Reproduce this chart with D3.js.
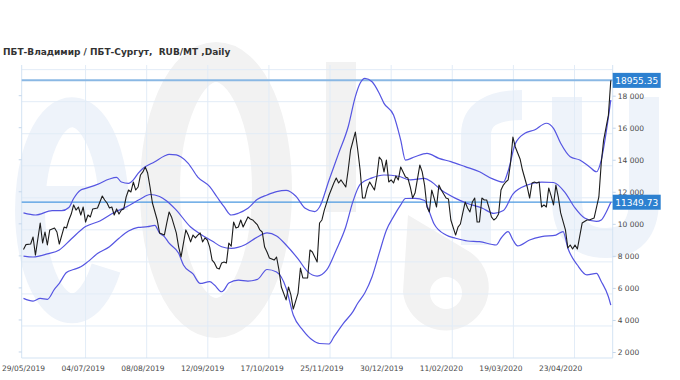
<!DOCTYPE html>
<html><head><meta charset="utf-8">
<script src="https://cdn.jsdelivr.net/npm/d3@7"></script>
<style>body{margin:0;background:#fff}svg{display:block}text{white-space:pre}</style>
</head><body><svg id="c" width="680" height="380"></svg>
<script>
const title = "ПБТ-Владимир / ПБТ-Сургут,  RUB/MT ,Daily";
const dateLabels = ["29/05/2019","04/07/2019","08/08/2019","12/09/2019","17/10/2019","25/11/2019","30/12/2019","11/02/2020","19/03/2020","23/04/2020"];
const dateLabelIdx = [0,25,50,75,100,125,150,175,200,225];
const yTicks = [2000,4000,6000,8000,10000,12000,14000,16000,18000];
const lastPrice = 18955.35;
const lastSMA = 11349.73;

// price (trading-day index, value)
const price = [[0,8400],[1,8700],[3,8740],[4,9180],[5,8050],[7,10050],[8,8800],[9,9490],[10,8680],[11,9620],[13,9740],[14,9490],[15,8740],[17,9800],[18,9740],[19,10240],[20,10610],[21,11180],[22,10860],[23,11050],[24,10550],[25,11050],[26,10110],[27,10550],[28,10430],[29,10930],[31,10990],[33,11740],[34,11490],[35,11300],[36,10990],[37,11050],[38,10550],[39,10930],[40,10610],[41,10860],[42,10930],[43,11680],[44,12110],[45,11990],[46,12610],[47,12110],[48,12300],[49,13050],[50,13240],[51,13550],[52,13170],[53,12300],[54,11300],[56,10240],[57,9430],[59,9300],[60,10050],[61,10740],[62,10430],[64,9430],[65,8550],[66,7930],[67,8800],[68,9620],[69,9300],[70,8870],[71,9300],[72,9120],[73,9300],[74,9430],[75,8870],[76,9120],[77,8990],[78,8550],[79,7740],[80,7560],[81,7240],[82,7180],[83,7560],[84,7620],[85,7560],[86,8800],[87,8600],[88,10110],[89,9740],[90,9800],[91,10240],[92,9800],[93,10110],[94,10430],[95,10300],[96,10240],[98,9930],[99,9620],[100,9490],[101,8550],[102,8240],[103,7870],[105,7740],[106,7930],[107,7120],[108,6060],[110,5250],[111,6060],[112,5560],[113,4680],[115,5680],[116,7240],[117,6620],[119,6620],[120,8370],[121,8240],[123,7620],[124,10050],[125,10240],[126,10860],[128,11800],[130,12550],[131,12860],[132,12550],[133,12740],[135,12300],[136,13360],[137,14610],[139,15730],[140,14610],[141,13360],[142,11610],[143,11610],[144,12240],[145,12610],[147,12110],[148,12920],[149,14170],[150,13980],[151,13240],[152,13980],[153,12610],[154,12740],[155,12550],[156,12990],[157,12740],[158,13550],[159,13240],[160,12920],[161,12860],[162,12300],[163,11610],[164,11920],[166,13670],[167,13240],[168,12420],[169,11050],[170,10740],[171,12110],[172,11610],[173,11050],[174,12420],[175,12110],[177,11610],[178,11550],[179,10240],[181,9300],[182,9800],[183,9990],[184,10680],[185,11360],[186,10990],[187,10740],[188,11360],[189,11610],[190,10110],[191,10120],[192,11610],[193,11490],[194,11490],[195,10990],[196,10430],[197,10240],[198,10360],[199,10610],[200,12110],[201,12420],[202,12610],[203,12740],[204,13800],[205,15420],[206,14800],[207,14420],[208,14050],[209,13360],[211,12300],[212,11610],[213,12550],[214,12610],[215,12550],[216,12610],[217,11050],[218,11180],[219,11050],[220,12240],[221,11740],[222,11180],[223,12420],[224,11680],[225,10680],[227,9620],[228,8490],[229,8680],[230,8430],[231,8680],[232,8430],[234,10050],[236,10240],[237,10240],[239,10360],[241,11680],[242,13800],[243,15230],[245,16790],[246,18955.35]];

const upperBand = [[0,10680],[5,10550],[12,10820],[16,10820],[19,11020],[21,11580],[24,12110],[26,12210],[31,12460],[36,12800],[39,12900],[41,12610],[44,12530],[46,12740],[48,13150],[50,13450],[55,13880],[59,14230],[61,14340],[64,14300],[66,14170],[69,13780],[73,12920],[78,12320],[81,11690],[84,11070],[87,10550],[90,10660],[94,10970],[98,11530],[102,11800],[106,12010],[110,12090],[114,11740],[118,10970],[122,10760],[124,11050],[128,12740],[132,14400],[136,16060],[139,17940],[141,18770],[143,19080],[146,18870],[149,18150],[151,17520],[155,16790],[158,15230],[160,13980],[164,14190],[169,14400],[174,14090],[179,13880],[185,13570],[191,13250],[196,12840],[201,12600],[203,13300],[206,15000],[210,15650],[214,15860],[219,16280],[222,15960],[225,15030],[229,14190],[233,13980],[237,13570],[240,13250],[242,13980],[244,15650],[246,17730]];

const middleBand = [[0,7990],[4,7930],[10,8120],[15,8370],[20,9050],[26,9830],[32,10180],[38,10710],[43,11050],[49,11550],[53,11830],[57,11710],[60,11430],[64,10860],[70,9800],[74,9370],[79,8930],[83,8570],[87,8470],[93,8710],[98,9180],[102,9430],[106,9240],[110,8680],[115,7810],[119,7020],[123,6740],[127,7120],[131,8370],[135,9820],[138,11400],[141,12460],[146,12870],[151,13050],[157,12970],[162,12740],[168,12840],[171,12610],[175,12110],[181,11590],[186,11270],[192,10990],[197,10650],[201,10830],[205,11860],[211,12420],[217,12600],[222,12580],[227,11920],[231,10990],[235,10360],[240,10150],[242,10240],[244,10710],[246,11349.73]];

const lowerBand = [[0,5350],[4,5180],[7,5350],[10,5290],[13,5930],[15,6290],[18,6960],[21,7150],[24,7320],[27,7640],[31,8150],[36,8570],[40,9100],[44,9550],[48,9780],[52,9820],[55,9900],[57,9420],[59,9200],[61,8790],[65,8160],[67,7430],[71,6870],[74,6280],[78,6390],[80,6180],[83,5760],[84,5870],[86,6310],[90,6490],[94,6430],[98,6530],[102,7150],[106,6990],[110,5990],[113,4310],[117,3370],[121,2750],[124,2530],[128,2500],[130,2940],[134,3790],[138,4520],[140,5040],[143,5700],[146,6700],[149,8170],[152,9600],[155,10450],[158,11180],[160,11580],[164,11590],[168,11460],[170,10740],[172,9990],[177,9300],[181,9100],[186,8930],[191,8890],[198,8680],[200,9100],[203,9510],[205,8990],[207,8620],[212,8990],[217,9200],[223,9300],[226,9520],[228,8490],[232,7430],[236,6810],[240,6910],[242,6400],[245,5450],[246,4930]];

const svg = d3.select("#c");
const L = 21.7, R = 612.7, T = 65, B = 358;
const yMin = 1625, yMax = 19915;
const x = d3.scaleLinear().domain([0, 246]).range([23.5, 610.8]);
const y = d3.scaleLinear().domain([yMin, yMax]).range([B, T]);

// faint watermark
const wm = svg.append("g");
const blue = "#eef3fa", grey = "#f2f2f2";
wm.append("path").attr("d", "M 114 205 A 42 98 0 1 0 106 268")
  .attr("fill","none").attr("stroke",blue).attr("stroke-width",30);
wm.append("line").attr("x1",32).attr("x2",128).attr("y1",198).attr("y2",198).attr("stroke",blue).attr("stroke-width",24);
wm.append("ellipse").attr("cx",216).attr("cy",190).attr("rx",56).attr("ry",128).attr("fill","none").attr("stroke",grey).attr("stroke-width",40);
wm.append("rect").attr("x",326).attr("y",62).attr("width",30).attr("height",150).attr("fill",grey);
wm.append("path").attr("d","M 408 215 L 470 252 A 43 43 0 1 1 403 292 Z").attr("fill",grey);
wm.append("circle").attr("cx",446).attr("cy",293).attr("r",16).attr("fill","#fff");
wm.append("path").attr("d","M 476 245 V 135 Q 476 105 522 105").attr("fill","none").attr("stroke",blue).attr("stroke-width",30);
wm.append("path").attr("d","M 567 97 V 200 Q 567 243 606 243 Q 644 243 644 200 V 97").attr("fill","none").attr("stroke",blue).attr("stroke-width",30);

// grid
const gridC = "#e2ecf7";
const g = svg.append("g");
g.selectAll(".hg").data(d3.range(yMin + 2000, yMax, 2000)).join("line")
  .attr("x1", L).attr("x2", R).attr("y1", d => y(d)).attr("y2", d => y(d))
  .attr("stroke", gridC).attr("stroke-width", 1);
g.selectAll(".vg").data(d3.range(26, 246, 25.6)).join("line")
  .attr("x1", d => x(d)).attr("x2", d => x(d)).attr("y1", T).attr("y2", B)
  .attr("stroke", gridC).attr("stroke-width", 1);
g.append("line").attr("x1",L).attr("x2",L).attr("y1",T).attr("y2",B).attr("stroke","#d3e3f3");
g.append("line").attr("x1",R).attr("x2",R).attr("y1",T).attr("y2",B).attr("stroke","#d3e3f3");
g.append("line").attr("x1",L).attr("x2",R).attr("y1",B).attr("y2",B).attr("stroke","#d3e3f3");

// right axis
const loc = d3.formatLocale({decimal:".", thousands:"\u00a0", grouping:[3], currency:["",""]});
const fmt = loc.format(",");
const ax = d3.axisRight(y).tickValues(yTicks).tickSize(3).tickPadding(2).tickFormat(fmt);
const axg = svg.append("g").attr("transform", `translate(${R},0)`).call(ax);
axg.select(".domain").remove();
axg.selectAll("line").attr("stroke", "#c5d6ea");
axg.selectAll("text").attr("font-family","DejaVu Sans, Verdana, sans-serif").attr("font-size","7.5px").attr("fill","#4a4a4a");
svg.append("g").selectAll("line").data(yTicks).join("line")
  .attr("x1", L - 3).attr("x2", L).attr("y1", d => y(d)).attr("y2", d => y(d)).attr("stroke","#c5d6ea");

// x labels
svg.append("g").selectAll("text").data(dateLabels).join("text")
  .attr("x", (d, i) => x(dateLabelIdx[i])).attr("y", 370.5)
  .attr("text-anchor", "middle").attr("font-family","DejaVu Sans, Verdana, sans-serif")
  .attr("font-size","7.5px").attr("fill","#4a4a4a").text(d => d);

// reference lines
svg.append("line").attr("x1",L).attr("x2",R).attr("y1",y(lastPrice)).attr("y2",y(lastPrice))
  .attr("stroke","#8ab8e4").attr("stroke-width",2);
svg.append("line").attr("x1",L).attr("x2",R).attr("y1",y(lastSMA)).attr("y2",y(lastSMA))
  .attr("stroke","#4a98e0").attr("stroke-width",1.2);

// bands
const bandLine = d3.line().x(d => x(d[0])).y(d => y(d[1])).curve(d3.curveMonotoneX);
[upperBand, middleBand, lowerBand].forEach(b => {
  svg.append("path").datum(b).attr("d", bandLine).attr("fill","none")
    .attr("stroke","#5555e2").attr("stroke-width",1.2);
});
// price
svg.append("path").datum(price).attr("d", d3.line().x(d => x(d[0])).y(d => y(d[1])))
  .attr("fill","none").attr("stroke","#1c1c1c").attr("stroke-width",1.1).attr("stroke-linejoin","round");

// value boxes
[lastPrice, lastSMA].forEach(v => {
  const gg = svg.append("g").attr("transform", `translate(${R},${y(v)})`);
  gg.append("rect").attr("x",0).attr("y",-7.5).attr("width",48).attr("height",15).attr("fill","#2c80d0");
  gg.append("text").attr("x",24).attr("y",3.3).attr("text-anchor","middle")
    .attr("font-family","DejaVu Sans, Verdana, sans-serif").attr("font-size","9px").attr("fill","#fff").text(v.toFixed(2));
});

// title
svg.append("text").attr("x",3).attr("y",54.5).attr("font-family","DejaVu Sans, Verdana, sans-serif")
  .attr("font-weight","bold").attr("font-size","9px").attr("fill","#333").text(title);
</script></body></html>
